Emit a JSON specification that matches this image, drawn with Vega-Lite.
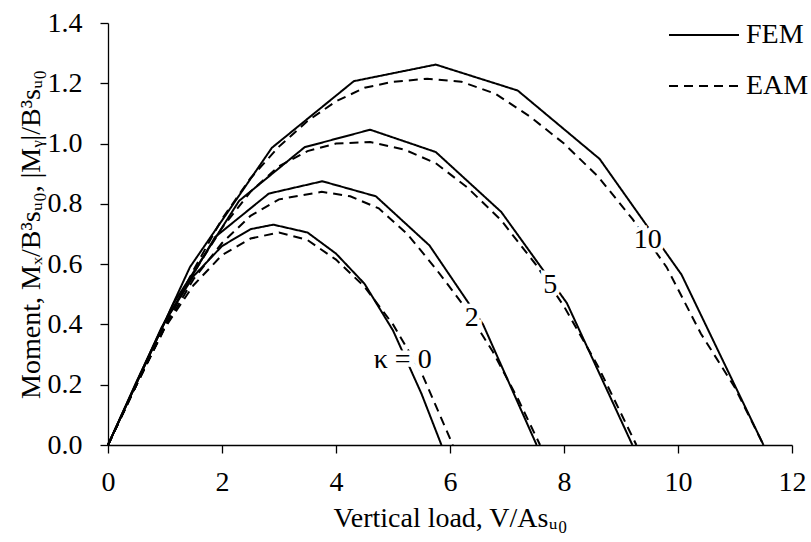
{
  "$schema": "https://vega.github.io/schema/vega-lite/v6.json",
  "autosize": {"type": "none"},
  "width": 684,
  "height": 422,
  "padding": {"left": 108, "top": 23, "right": 19, "bottom": 97},
  "background": "white",
  "config": {
    "view": {"stroke": null},
    "font": "Liberation Serif",
    "axis": {
      "domainColor": "black", "tickColor": "black", "labelColor": "black", "titleColor": "black",
      "labelFont": "Liberation Serif", "titleFont": "Liberation Serif",
      "labelFontSize": 28, "titleFontSize": 28, "titleFontWeight": "normal",
      "grid": false, "tickSize": 8, "domainWidth": 1.3, "tickWidth": 1.3, "labelFlush": false
    },
    "legend": {"labelFont": "Liberation Serif", "labelFontSize": 28, "labelColor": "black"}
  },
  "datasets": {
    "curves": [
      {"k": "0", "method": "FEM", "V": 0, "M": 0},
      {"k": "0", "method": "FEM", "V": 0.5, "M": 0.21},
      {"k": "0", "method": "FEM", "V": 1.0, "M": 0.41},
      {"k": "0", "method": "FEM", "V": 1.5, "M": 0.56},
      {"k": "0", "method": "FEM", "V": 2.0, "M": 0.66},
      {"k": "0", "method": "FEM", "V": 2.5, "M": 0.716},
      {"k": "0", "method": "FEM", "V": 2.9, "M": 0.731},
      {"k": "0", "method": "FEM", "V": 3.5, "M": 0.705},
      {"k": "0", "method": "FEM", "V": 4.0, "M": 0.635},
      {"k": "0", "method": "FEM", "V": 4.5, "M": 0.535},
      {"k": "0", "method": "FEM", "V": 5.0, "M": 0.38},
      {"k": "0", "method": "FEM", "V": 5.5, "M": 0.17},
      {"k": "0", "method": "FEM", "V": 5.85, "M": 0},
      {"k": "2", "method": "FEM", "V": 0, "M": 0},
      {"k": "2", "method": "FEM", "V": 0.94, "M": 0.39},
      {"k": "2", "method": "FEM", "V": 1.88, "M": 0.69},
      {"k": "2", "method": "FEM", "V": 2.82, "M": 0.834},
      {"k": "2", "method": "FEM", "V": 3.76, "M": 0.875},
      {"k": "2", "method": "FEM", "V": 4.7, "M": 0.825},
      {"k": "2", "method": "FEM", "V": 5.64, "M": 0.662},
      {"k": "2", "method": "FEM", "V": 6.58, "M": 0.4},
      {"k": "2", "method": "FEM", "V": 7.52, "M": 0},
      {"k": "5", "method": "FEM", "V": 0, "M": 0},
      {"k": "5", "method": "FEM", "V": 1.15, "M": 0.47},
      {"k": "5", "method": "FEM", "V": 2.3, "M": 0.81},
      {"k": "5", "method": "FEM", "V": 3.45, "M": 0.988},
      {"k": "5", "method": "FEM", "V": 4.6, "M": 1.046},
      {"k": "5", "method": "FEM", "V": 5.75, "M": 0.972},
      {"k": "5", "method": "FEM", "V": 6.9, "M": 0.773},
      {"k": "5", "method": "FEM", "V": 8.05, "M": 0.471},
      {"k": "5", "method": "FEM", "V": 9.2, "M": 0},
      {"k": "10", "method": "FEM", "V": 0, "M": 0},
      {"k": "10", "method": "FEM", "V": 1.4375, "M": 0.59},
      {"k": "10", "method": "FEM", "V": 2.875, "M": 0.986},
      {"k": "10", "method": "FEM", "V": 4.3125, "M": 1.207},
      {"k": "10", "method": "FEM", "V": 5.75, "M": 1.262},
      {"k": "10", "method": "FEM", "V": 7.1875, "M": 1.176},
      {"k": "10", "method": "FEM", "V": 8.625, "M": 0.949},
      {"k": "10", "method": "FEM", "V": 10.0625, "M": 0.565},
      {"k": "10", "method": "FEM", "V": 11.5, "M": 0},
      {"k": "0", "method": "EAM", "V": 0, "M": 0},
      {"k": "0", "method": "EAM", "V": 0.5, "M": 0.2},
      {"k": "0", "method": "EAM", "V": 1.0, "M": 0.39},
      {"k": "0", "method": "EAM", "V": 1.5, "M": 0.53},
      {"k": "0", "method": "EAM", "V": 2.0, "M": 0.63},
      {"k": "0", "method": "EAM", "V": 2.5, "M": 0.685},
      {"k": "0", "method": "EAM", "V": 3.0, "M": 0.705},
      {"k": "0", "method": "EAM", "V": 3.5, "M": 0.68},
      {"k": "0", "method": "EAM", "V": 4.0, "M": 0.615},
      {"k": "0", "method": "EAM", "V": 4.5, "M": 0.525},
      {"k": "0", "method": "EAM", "V": 5.0, "M": 0.4},
      {"k": "0", "method": "EAM", "V": 5.5, "M": 0.24},
      {"k": "0", "method": "EAM", "V": 6.05, "M": 0},
      {"k": "2", "method": "EAM", "V": 0, "M": 0},
      {"k": "2", "method": "EAM", "V": 0.5, "M": 0.2},
      {"k": "2", "method": "EAM", "V": 1.0, "M": 0.39},
      {"k": "2", "method": "EAM", "V": 1.5, "M": 0.55},
      {"k": "2", "method": "EAM", "V": 2.0, "M": 0.67},
      {"k": "2", "method": "EAM", "V": 2.5, "M": 0.76},
      {"k": "2", "method": "EAM", "V": 3.0, "M": 0.815},
      {"k": "2", "method": "EAM", "V": 3.75, "M": 0.84},
      {"k": "2", "method": "EAM", "V": 4.25, "M": 0.825},
      {"k": "2", "method": "EAM", "V": 4.75, "M": 0.785},
      {"k": "2", "method": "EAM", "V": 5.25, "M": 0.7},
      {"k": "2", "method": "EAM", "V": 5.75, "M": 0.585},
      {"k": "2", "method": "EAM", "V": 6.25, "M": 0.46},
      {"k": "2", "method": "EAM", "V": 6.75, "M": 0.31},
      {"k": "2", "method": "EAM", "V": 7.2, "M": 0.15},
      {"k": "2", "method": "EAM", "V": 7.58, "M": 0},
      {"k": "5", "method": "EAM", "V": 0, "M": 0},
      {"k": "5", "method": "EAM", "V": 0.5, "M": 0.2},
      {"k": "5", "method": "EAM", "V": 1.0, "M": 0.395},
      {"k": "5", "method": "EAM", "V": 1.5, "M": 0.57},
      {"k": "5", "method": "EAM", "V": 2.0, "M": 0.72},
      {"k": "5", "method": "EAM", "V": 2.5, "M": 0.84},
      {"k": "5", "method": "EAM", "V": 3.0, "M": 0.925},
      {"k": "5", "method": "EAM", "V": 3.5, "M": 0.975},
      {"k": "5", "method": "EAM", "V": 4.0, "M": 1.0},
      {"k": "5", "method": "EAM", "V": 4.6, "M": 1.005},
      {"k": "5", "method": "EAM", "V": 5.2, "M": 0.98},
      {"k": "5", "method": "EAM", "V": 5.75, "M": 0.935},
      {"k": "5", "method": "EAM", "V": 6.3, "M": 0.855},
      {"k": "5", "method": "EAM", "V": 6.9, "M": 0.745},
      {"k": "5", "method": "EAM", "V": 7.5, "M": 0.6},
      {"k": "5", "method": "EAM", "V": 8.0, "M": 0.46},
      {"k": "5", "method": "EAM", "V": 8.6, "M": 0.26},
      {"k": "5", "method": "EAM", "V": 9.27, "M": 0},
      {"k": "10", "method": "EAM", "V": 0, "M": 0},
      {"k": "10", "method": "EAM", "V": 0.5, "M": 0.2},
      {"k": "10", "method": "EAM", "V": 1.0, "M": 0.395},
      {"k": "10", "method": "EAM", "V": 1.5, "M": 0.58},
      {"k": "10", "method": "EAM", "V": 2.0, "M": 0.75},
      {"k": "10", "method": "EAM", "V": 2.5, "M": 0.885},
      {"k": "10", "method": "EAM", "V": 3.0, "M": 0.99},
      {"k": "10", "method": "EAM", "V": 3.5, "M": 1.075},
      {"k": "10", "method": "EAM", "V": 4.0, "M": 1.14},
      {"k": "10", "method": "EAM", "V": 4.5, "M": 1.185},
      {"k": "10", "method": "EAM", "V": 5.0, "M": 1.205},
      {"k": "10", "method": "EAM", "V": 5.6, "M": 1.215},
      {"k": "10", "method": "EAM", "V": 6.2, "M": 1.205},
      {"k": "10", "method": "EAM", "V": 6.8, "M": 1.165},
      {"k": "10", "method": "EAM", "V": 7.4, "M": 1.09},
      {"k": "10", "method": "EAM", "V": 8.0, "M": 1.0},
      {"k": "10", "method": "EAM", "V": 8.6, "M": 0.89},
      {"k": "10", "method": "EAM", "V": 9.2, "M": 0.75},
      {"k": "10", "method": "EAM", "V": 9.8, "M": 0.59},
      {"k": "10", "method": "EAM", "V": 10.4, "M": 0.37},
      {"k": "10", "method": "EAM", "V": 11.0, "M": 0.19},
      {"k": "10", "method": "EAM", "V": 11.5, "M": 0}
    ],
    "labels": [
      {"V": 5.17, "M": 0.282, "label": "κ = 0"},
      {"V": 6.38, "M": 0.42, "label": "2"},
      {"V": 7.76, "M": 0.53, "label": "5"},
      {"V": 9.47, "M": 0.68, "label": "10"}
    ]
  },
  "layer": [
    {
      "data": {"name": "curves"},
      "mark": {"type": "line", "color": "black", "strokeWidth": 2},
      "encoding": {
        "x": {
          "field": "V", "type": "quantitative",
          "scale": {"domain": [0, 12], "nice": false},
          "axis": {"values": [0, 2, 4, 6, 8, 10, 12], "format": "d", "title": "Vertical load, V/Asᵤ₀", "labelPadding": 15, "titlePadding": 8, "labelFlush": false}
        },
        "y": {
          "field": "M", "type": "quantitative",
          "scale": {"domain": [0, 1.4], "nice": false},
          "axis": {"values": [0, 0.2, 0.4, 0.6, 0.8, 1.0, 1.2, 1.4], "format": ".1f", "title": "Moment, Mₓ/B³sᵤ₀, |Mᵧ|/B³sᵤ₀", "labelPadding": 18, "titlePadding": 2, "labelFlush": false}
        },
        "detail": {"field": "k"},
        "strokeDash": {
          "field": "method", "type": "nominal",
          "scale": {"domain": ["FEM", "EAM"], "range": [[1, 0], [9, 6]]},
          "legend": {
            "title": null, "orient": "none", "legendX": 560, "legendY": 0,
            "symbolType": "stroke", "symbolSize": 4900, "symbolStrokeWidth": 2,
            "symbolStrokeColor": "black", "clipHeight": 24, "rowPadding": 23, "labelOffset": 6
          }
        }
      }
    },
    {
      "data": {"name": "labels"},
      "mark": {"type": "text", "font": "Liberation Serif", "fontSize": 28, "stroke": "white", "strokeWidth": 9, "fill": "white"},
      "encoding": {
        "x": {"field": "V", "type": "quantitative"},
        "y": {"field": "M", "type": "quantitative"},
        "text": {"field": "label"}
      }
    },
    {
      "data": {"name": "labels"},
      "mark": {"type": "text", "font": "Liberation Serif", "fontSize": 28, "color": "black"},
      "encoding": {
        "x": {"field": "V", "type": "quantitative"},
        "y": {"field": "M", "type": "quantitative"},
        "text": {"field": "label"}
      }
    }
  ]
}
